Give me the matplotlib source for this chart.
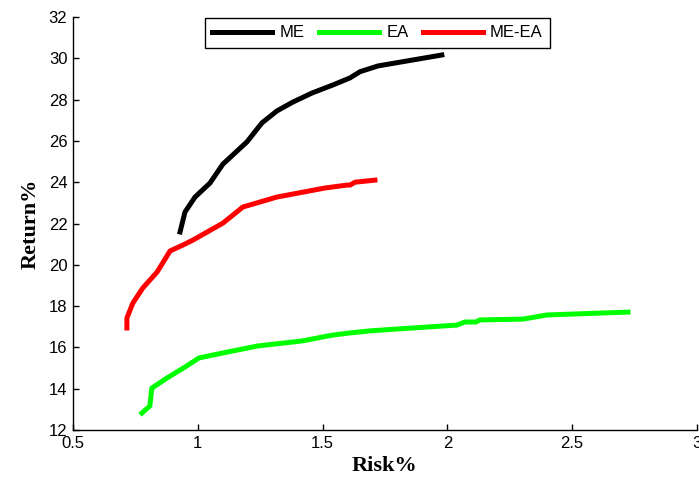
import matplotlib.pyplot as plt

# Efficient frontiers (Risk%, Return%)
me_risk = [0.929, 0.949, 0.989, 1.049, 1.101, 1.197, 1.257, 1.317, 1.381, 1.458,
           1.542, 1.61, 1.65, 1.722, 1.978]
me_ret = [21.59, 22.56, 23.28, 23.96, 24.88, 25.95, 26.87, 27.45, 27.88, 28.32,
          28.71, 29.05, 29.35, 29.63, 30.16]

ea_risk = [0.776, 0.808, 0.816, 0.877, 0.949, 1.005, 1.141, 1.241, 1.417, 1.542,
           1.61, 1.69, 1.798, 2.038, 2.07, 2.115, 2.13, 2.303, 2.399, 2.724]
ea_ret = [12.82, 13.16, 14.03, 14.52, 15.05, 15.49, 15.83, 16.07, 16.31, 16.6,
          16.7, 16.8, 16.89, 17.08, 17.23, 17.23, 17.33, 17.37, 17.57, 17.71]

mea_risk = [0.716, 0.716, 0.74, 0.78, 0.837, 0.889, 0.941, 0.981, 1.101, 1.181,
            1.317, 1.51, 1.598, 1.61, 1.63, 1.71]
mea_ret = [16.94, 17.42, 18.15, 18.88, 19.65, 20.67, 20.96, 21.2, 22.02, 22.8,
           23.28, 23.72, 23.86, 23.86, 24.0, 24.1]

fig = plt.figure(figsize=(6.99, 4.79), dpi=100)
ax = fig.add_axes([0.1044, 0.1023, 0.8926, 0.8622])

lw = 3.6
ax.plot(me_risk, me_ret, color='black', lw=lw, label='ME')
ax.plot(ea_risk, ea_ret, color='#00ff00', lw=lw, label='EA')
ax.plot(mea_risk, mea_ret, color='red', lw=lw, label='ME-EA')

ax.set_xlim(0.5, 3)
ax.set_ylim(12, 32)
ax.set_xticks([0.5, 1, 1.5, 2, 2.5, 3])
ax.set_xticklabels(['0.5', '1', '1.5', '2', '2.5', '3'])
ax.set_yticks(range(12, 33, 2))

for s in ['top', 'right']:
    ax.spines[s].set_visible(False)
for s in ['left', 'bottom']:
    ax.spines[s].set_linewidth(1.0)

ax.tick_params(direction='in', length=4, width=1, labelsize=12, pad=4)
for lab in ax.get_xticklabels() + ax.get_yticklabels():
    lab.set_family('Liberation Sans')

ax.set_xlabel('Risk%', fontfamily='Liberation Serif', fontweight='bold', fontsize=16, labelpad=4)
ax.set_ylabel('Return%', fontfamily='Liberation Serif', fontweight='bold', fontsize=16, labelpad=6)

leg = ax.legend(loc='upper center', bbox_to_anchor=(0.488, 1.0), borderaxespad=0.05, ncol=3,
                fancybox=False, framealpha=1, edgecolor='black', handlelength=3.6,
                columnspacing=0.85, borderpad=0.45, handletextpad=0.45,
                prop={'family': 'Liberation Sans', 'size': 12})
leg.get_frame().set_linewidth(1.0)

fig.savefig('out.png', dpi=100)
